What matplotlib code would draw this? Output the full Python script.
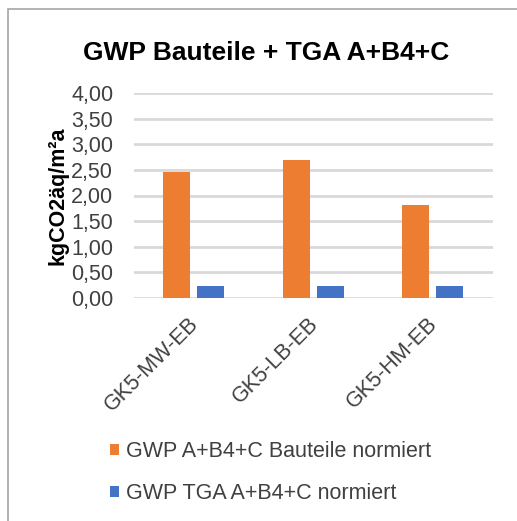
import numpy as np
import matplotlib
matplotlib.use("Agg")
import matplotlib.pyplot as plt
import matplotlib.transforms as mtransforms
from matplotlib.patches import Rectangle
from matplotlib.ticker import FuncFormatter

# Daten
kategorien = ["GK5-MW-EB", "GK5-LB-EB", "GK5-HM-EB"]
bauteile = [2.46, 2.69, 1.81]
tga = [0.23, 0.23, 0.23]
serien_namen = ["GWP A+B4+C Bauteile normiert", "GWP TGA A+B4+C normiert"]

plt.rcParams['font.family'] = ['Liberation Sans', 'DejaVu Sans']

fig = plt.figure(figsize=(5.17, 5.21), dpi=100)
ax = fig.add_axes([134/517, 1-298/521, (493-134)/517, (298-93)/521])

x = np.arange(len(kategorien))
b = 0.225
ax.bar(x - 0.145, bauteile, b, color='#ED7D31', label=serien_namen[0], zorder=3)
ax.bar(x + 0.14, tga, b, color='#4472C4', label=serien_namen[1], zorder=3)

ax.set_xlim(-0.5, 2.5)
ax.set_ylim(0, 4)
ax.set_yticks(np.arange(0, 4.01, 0.5))
ax.yaxis.set_major_formatter(FuncFormatter(lambda v, p: f"{v:.2f}".replace('.', ',')))
ax.grid(axis='y', color='#D9D9D9', linewidth=2, zorder=0)
for s in ax.spines.values():
    s.set_visible(False)
ax.tick_params(length=0, labelsize=15.5, colors='#404040')
ax.tick_params(axis='y', pad=15)
ax.tick_params(axis='x', pad=11)
ax.set_xticks(x)
ax.set_xticklabels(kategorien, rotation=45, ha='right', rotation_mode='anchor')
verschub = mtransforms.ScaledTranslation(-6/100, 0, fig.dpi_scale_trans)
for lab in ax.get_xticklabels():
    lab.set_transform(lab.get_transform() + verschub)
ax.yaxis.set_label_coords(-66/359, 0.5)
ax.set_ylabel("kgCO2äq/m²a", fontsize=15.5, fontweight='bold')

fig.text(0.515, 1-53/521, "GWP Bauteile + TGA A+B4+C", fontsize=19, fontweight='bold',
         ha='center', va='center')

leg = fig.legend(loc='upper left', bbox_to_anchor=(110/517, 1-441/521), frameon=False,
                 fontsize=15.5, handlelength=0.42, handleheight=0.42, handletextpad=0.3,
                 labelspacing=0.98, borderpad=0, borderaxespad=0, labelcolor='#404040')

fig.add_artist(Rectangle((8/517, -0.1), 1.1, 1.1-9/521, transform=fig.transFigure,
                         fill=False, edgecolor='#A6A6A6', linewidth=1.2))

fig.savefig("out.png", dpi=100)
